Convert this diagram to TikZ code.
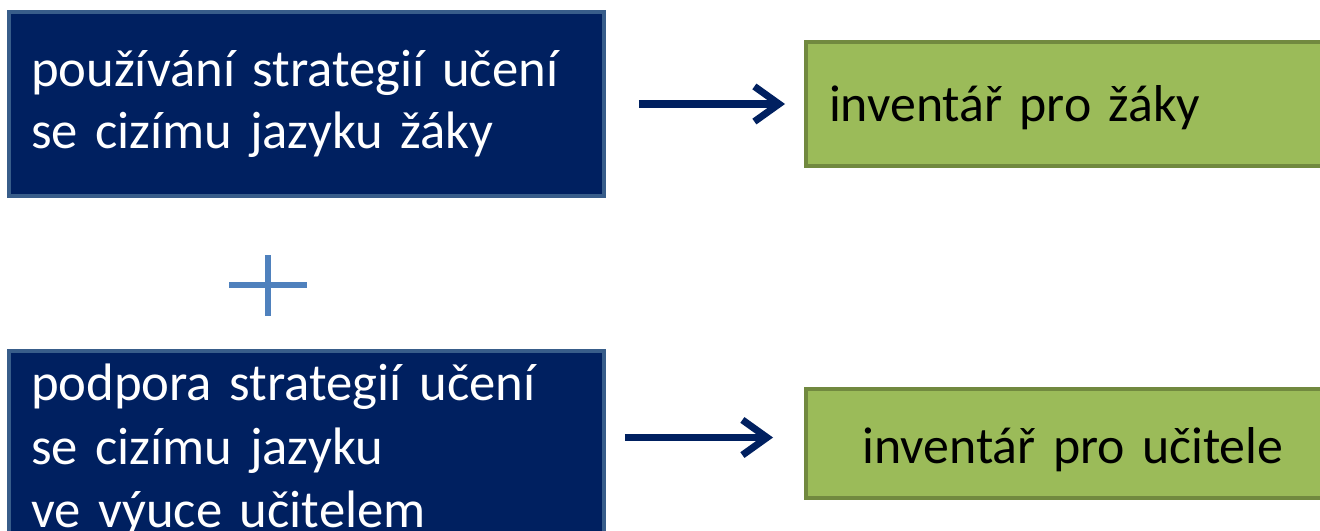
\documentclass[tikz,border=0pt]{standalone}
\usepackage{fontspec}
\setmainfont{Carlito}
\usepackage{tikz}
\usetikzlibrary{arrows.meta}

\definecolor{navy}{HTML}{002060}
\definecolor{navyline}{HTML}{385D8A}
\definecolor{leaf}{HTML}{9BBB59}
\definecolor{leafline}{HTML}{71893F}
\definecolor{plusblue}{HTML}{4F81BD}

\begin{document}
\begin{tikzpicture}[x=0.02cm, y=-0.02cm, >={Straight Barb[length=14pt,width=20pt,line width=4pt]}]

    \tikzstyle{blue box}=[fill=navy, draw=navyline, line width=2.3pt, text=white, minimum width=11.9cm, minimum height=3.68cm, inner xsep=0.44cm, text width=11.02cm, align=left]
    \tikzstyle{green box}=[fill=leaf, draw=leafline, line width=2.3pt, text=black, minimum width=10.68cm, minimum height=2.48cm, inner xsep=0.46cm, text width=9.76cm, font=\fontsize{29.5}{34}\selectfont]
    \tikzstyle{flow}=[->, draw=navy, line width=4pt]

    \useasboundingbox (0,0) rectangle (1320,531);
    \clip (0,0) rectangle (1320,531);

    \node[blue box, font=\fontsize{30}{35.5}\selectfont] (zaci) at (306.5,104) {používání strategií učení\\se cizímu jazyku žáky};
    \node[blue box, minimum height=3.96cm, font=\fontsize{30}{36.3}\selectfont] (ucitel) at (306.5,450) {podpora strategií učení\\se cizímu jazyku\\ve výuce učitelem};

    \node[green box, align=left] (invz) at (1073,104) {\raisebox{-0.08cm}[\height][\depth]{inventář pro žáky}};
    \node[green box, minimum height=2.18cm, align=center] (invu) at (1073,443.5) {\raisebox{-0.12cm}[\height][\depth]{inventář pro učitele}};

    \draw[flow, shorten <=0.66cm, shorten >=0.38cm] (zaci) -- (invz);
    \draw[flow, shorten <=0.38cm, shorten >=0.62cm] ([yshift=0.25cm]ucitel.east) -- ([yshift=0.25cm]ucitel.east -| invu.west);

    % plus sign
    \draw[plusblue, line width=3.6pt] (229,285) -- (307,285) (268,255) -- (268,316);
\end{tikzpicture}
\end{document}
